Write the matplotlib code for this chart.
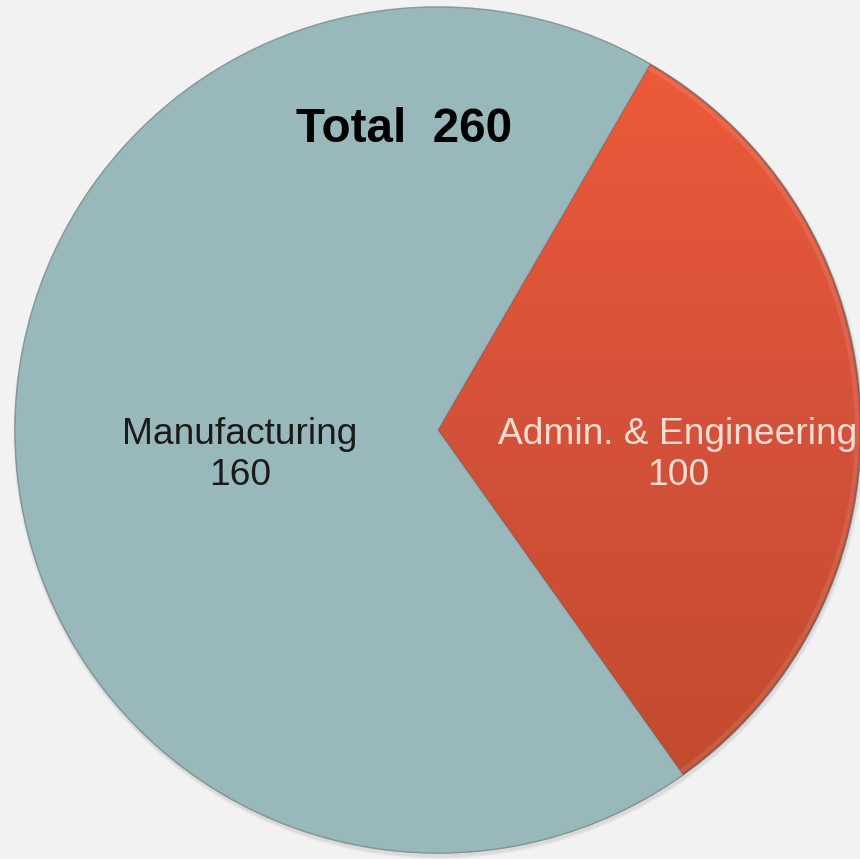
import numpy as np
import matplotlib.pyplot as plt
from matplotlib.patches import Circle
from matplotlib.colors import LinearSegmentedColormap

# data
categories = ['Admin. & Engineering', 'Manufacturing']
values = [100, 160]
# angular share of each wedge as drawn in the reference (percent)
wedge_share = [31.8, 68.2]
total = 260

bg = '#f2f2f2'
teal = '#98b8bb'
orange_top = '#f05b39'
orange_bot = '#bf4a2b'

W, H = 860, 859
fig = plt.figure(figsize=(W / 100, H / 100), dpi=100, facecolor=bg)
ax = fig.add_axes([0, 0, 1, 1])

cx, cy, r = 438, 429, 423

# soft shadow behind the pie
for i, a in enumerate([0.04, 0.05, 0.06]):
    ax.add_patch(Circle((cx + 1, cy - 3), r + 3 - i, color='#555555', alpha=a, lw=0, zorder=1))

wedges, _ = ax.pie(wedge_share, colors=[orange_top, teal], startangle=-54.6,
                   counterclock=True, center=(cx, cy), radius=r,
                   wedgeprops=dict(linewidth=0, zorder=2))
ax.set_xlim(0, W)
ax.set_ylim(0, H)
ax.set_aspect('equal')
ax.axis('off')

# vertical gradient on the admin wedge
grad = np.linspace(0, 1, 256).reshape(-1, 1)
cmap = LinearSegmentedColormap.from_list('og', [orange_bot, '#d4513a', orange_top])
im = ax.imshow(grad, cmap=cmap, extent=[cx, cx + r, cy - r, cy + r], origin='lower',
               aspect='auto', zorder=3)
im.set_clip_path(wedges[0])

# bevel: light inner rim and soft dark outer edge
ax.add_patch(Circle((cx, cy), r - 4, fill=False, ec='white', lw=3, alpha=0.1, zorder=4))
ax.add_patch(Circle((cx, cy), r, fill=False, ec='#4a5f60', lw=1.2, alpha=0.4, zorder=4))
for w in wedges:
    w.set_edgecolor((0.3, 0.35, 0.35, 0.3))
    w.set_linewidth(1.0)
    w.set_zorder(5)
wedges[0].set_facecolor('none')

font = 'Liberation Sans'
ax.text(240, H - 455, f'{categories[1]}\n{values[1]}', ha='center', va='center',
        fontsize=26.7, family=font, color='#1a1a1a', linespacing=1.2, zorder=6)
ax.text(678, H - 455, f'{categories[0]}\n{values[0]}', ha='center', va='center',
        fontsize=26.7, family=font, color='#f8ddd5', linespacing=1.2, zorder=6)
ax.text(404, H - 130, f'Total  {total}', ha='center', va='center',
        fontsize=34.3, family=font, fontweight='bold', color='black', zorder=6)

fig.savefig('out.png', dpi=100, facecolor=bg)
